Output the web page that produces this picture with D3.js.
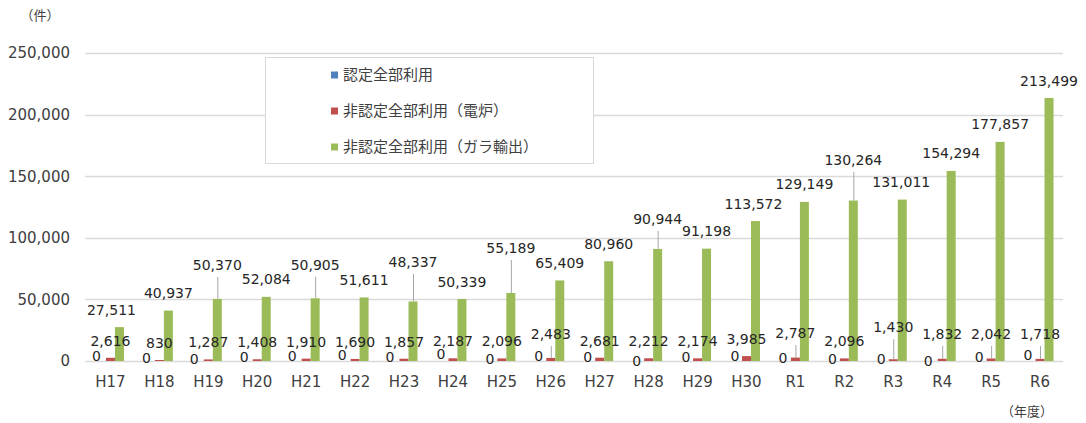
<!DOCTYPE html>
<html><head><meta charset="utf-8">
<script src="https://cdn.jsdelivr.net/npm/d3@7"></script>
<style>
html,body{margin:0;padding:0;background:#fff;}
svg{display:block;}
.num{font-family:"DejaVu Sans",Verdana,sans-serif;}
.jp{font-family:"Noto Sans CJK JP","Noto Sans",sans-serif;}
.unit{font-family:"Noto Sans CJK JP","Noto Sans",sans-serif;font-feature-settings:"halt";}
</style></head>
<body>
<script>
// ---- data ----
const years = ["H17","H18","H19","H20","H21","H22","H23","H24","H25","H26","H27","H28","H29","H30","R1","R2","R3","R4","R5","R6"];
const seriesNames = ["認定全部利用","非認定全部利用（電炉）","非認定全部利用（ガラ輸出）"];
const nintei = [0,0,0,0,0,0,0,0,0,0,0,0,0,0,0,0,0,0,0,0];
const denro  = [2616,830,1287,1408,1910,1690,1857,2187,2096,2483,2681,2212,2174,3985,2787,2096,1430,1832,2042,1718];
const gara   = [27511,40937,50370,52084,50905,51611,48337,50339,55189,65409,80960,90944,91198,113572,129149,130264,131011,154294,177857,213499];
const yTicks = [0,50000,100000,150000,200000,250000];

// ---- styles / manual label nudges (as in the reference) ----
const colors = ["#4F81BD","#C0504D","#9BBB59"];
const blueLabelShift  = [[-5,-5],[-4,-3],[-5,-2.5],[-4,-4],[-5,-5],[-4,-6],[-5,-4],[-3,-7],[-3,-2],[-3,-5],[-3,-4],[-3,0],[-2.5,-4],[-2.5,-5],[-3.5,-3.5],[-3,-2],[-3,-2],[-5,0],[-3,-4],[-3,-6]];
const redLabelShift   = [[0,0],[0,0],[0,0],[0,0],[0,0],[0,0],[0,0],[0,0],[0,0],[0,-7],[0,0],[0,0],[0,0],[0,0],[0,-7.5],[0,0],[0,-15],[0,-8],[0,-7.5],[0,-8]];
const greenLabelShift = [[-8,0],[0,0],[0,-16.5],[0,0],[0,-16],[0,0],[0,-22],[0,0],[0,-27.5],[0,0],[0,0],[0,-12.5],[0,0],[-2,0],[0,0],[0,-23],[-1,0],[0,0],[0,0],[0,0]];

const W = 1086, H = 423;
const svg = d3.select("body").append("svg").attr("width", W).attr("height", H);
svg.append("rect").attr("width", W).attr("height", H).attr("fill", "#fff");

const x = d3.scaleBand().domain(years).range([86, 1064.5]).paddingInner(0).paddingOuter(0);
const xs = d3.scaleBand().domain([0,1,2]).range([0, x.bandwidth()]).paddingInner(0).paddingOuter(1.22);
const y = d3.scaleLinear().domain([0, 250000]).range([361, 53]);
const fmt = d3.format(",");

// gridlines
svg.append("g").selectAll("line").data(yTicks).join("line")
  .attr("x1", 85).attr("x2", 1063)
  .attr("y1", d => Math.round(y(d)) + 0.5).attr("y2", d => Math.round(y(d)) + 0.5)
  .attr("stroke", "#d9d9d9").attr("stroke-width", 1.3);

// y axis labels
svg.append("g").selectAll("text").data(yTicks).join("text")
  .attr("class","num").attr("x", 70).attr("y", d => y(d)).attr("dy","0.36em")
  .attr("text-anchor","end").attr("font-size", 15).attr("fill","#404040")
  .text(d => fmt(d));

// x axis labels
svg.append("g").selectAll("text").data(years).join("text")
  .attr("class","num").attr("x", d => x(d) + x.bandwidth()/2).attr("y", 382).attr("dy","0.36em")
  .attr("text-anchor","middle").attr("font-size", 15).attr("fill","#404040")
  .text(d => d);

const series = [nintei, denro, gara];
const shifts = [blueLabelShift, redLabelShift, greenLabelShift];
const defaultGap = [17, 17, 17.5];

series.forEach((vals, s) => {
  const g = svg.append("g");
  g.selectAll("rect").data(vals).join("rect")
    .attr("x", (d,i) => x(years[i]) + xs(s))
    .attr("width", xs.bandwidth())
    .attr("y", d => y(d))
    .attr("height", d => y(0) - y(d))
    .attr("fill", colors[s]);
});

series.forEach((vals, s) => {
  const g = svg.append("g");
  vals.forEach((v, i) => {
    const bx = x(years[i]) + xs(s) + xs.bandwidth()/2;
    const top = y(v);
    const [dx, dy] = shifts[s][i];
    let cy;
    if (s === 0) cy = y(0) + dy;
    else cy = top - defaultGap[s] + dy;
    const cx = bx + dx;
    if (s > 0 && dy <= -7) {
      g.append("line").attr("x1", cx + 0.5).attr("x2", cx + 0.5)
        .attr("y1", cy + 12).attr("y2", top)
        .attr("stroke", "#a6a6a6").attr("stroke-width", 1);
    }
    g.append("text").attr("class","num")
      .attr("x", cx).attr("y", cy).attr("dy","0.36em")
      .attr("text-anchor","middle").attr("font-size", 14).attr("fill","#262626")
      .text(fmt(v));
  });
});

// unit labels
svg.append("text").attr("class","unit").attr("x", 40).attr("y", 15).attr("dy","0.36em")
  .attr("text-anchor","middle").attr("font-size", 13).attr("fill","#404040").text("（件）");
svg.append("text").attr("class","unit").attr("x", 1027).attr("y", 411).attr("dy","0.36em")
  .attr("text-anchor","middle").attr("font-size", 13).attr("fill","#404040").text("（年度）");

// legend
const lg = svg.append("g");
lg.append("rect").attr("x", 265.5).attr("y", 57.5).attr("width", 328).attr("height", 106)
  .attr("fill", "#fff").attr("stroke", "#d9d9d9").attr("stroke-width", 1);
const legY = [75, 111, 147];
seriesNames.forEach((n, i) => {
  lg.append("rect").attr("x", 331).attr("y", legY[i] - 3.5).attr("width", 7).attr("height", 7).attr("fill", colors[i]);
  lg.append("text").attr("class","jp").attr("x", 343).attr("y", legY[i]).attr("dy","0.36em")
    .attr("font-size", 15).attr("fill","#404040").text(n);
});
</script>
</body></html>
